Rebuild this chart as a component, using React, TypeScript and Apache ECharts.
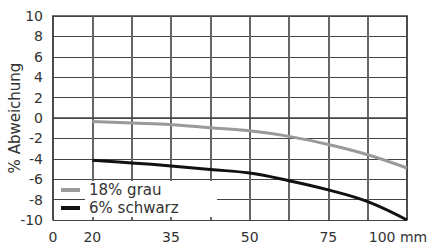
import React, { useEffect, useRef } from "react";
import * as echarts from "echarts";

const tickLabels = ["0", "20", "", "35", "", "50", "", "75", "", "100 mm"];
const grau = [null, -0.35, -0.5, -0.65, -0.95, -1.25, -1.8, -2.6, -3.6, -4.9];
const schwarz = [null, -4.15, -4.4, -4.7, -5.05, -5.4, -6.15, -7.05, -8.2, -10];
const seriesNames = ["18% grau", "6% schwarz"];
const yTitle = "% Abweichung";

const FONT = "DejaVu Sans";
const TEXT = "#333";
const GRID = "#444";

const toPoints = (arr: (number | null)[]) =>
  arr.map((v, i) => (v === null ? null : [i, v])).filter((p) => p !== null);

export default function App() {
  const ref = useRef<HTMLDivElement>(null);
  useEffect(() => {
    document.body.style.margin = "0";
    const chart = echarts.init(ref.current!, null, { renderer: "svg" });
    const xMax = tickLabels.length - 1;
    chart.setOption({
      animation: false,
      grid: {
        left: 53,
        right: 23,
        top: 16,
        bottom: 24,
        outerBoundsMode: "none",
        containLabel: false,
      },
      xAxis: [
        {
          type: "value",
          min: 0,
          max: xMax,
          interval: 1,
          axisLine: { lineStyle: { color: GRID, width: 1.5 } },
          axisTick: { show: false },
          axisLabel: {
            margin: 10,
            color: TEXT,
            fontFamily: FONT,
            fontSize: 14,
            formatter: (v: number) => {
              const s = tickLabels[Math.round(v)] ?? "";
              return Math.round(v) === xMax ? "{t|" + s + "}{p|}" : s;
            },
            rich: {
              t: { fontFamily: FONT, fontSize: 14, color: TEXT },
              p: { width: 18 },
            },
          },
          splitLine: { show: true, lineStyle: { color: "#666", width: 2 } },
        },
        {
          type: "value",
          position: "top",
          min: 0,
          max: xMax,
          interval: 1,
          axisLine: { show: true, onZero: false, lineStyle: { color: GRID, width: 1.5 } },
          axisTick: { show: false },
          axisLabel: { show: false },
          splitLine: { show: false },
        },
      ],
      yAxis: [
        {
          type: "value",
          min: -10,
          max: 10,
          interval: 2,
          name: yTitle,
          nameLocation: "middle",
          nameGap: 31,
          nameMoveOverlap: false,
          nameTextStyle: { fontFamily: FONT, fontSize: 15, color: TEXT },
          axisLine: { show: true, onZero: false, lineStyle: { color: GRID, width: 1.5 } },
          axisTick: { show: false },
          axisLabel: { margin: 10, color: TEXT, fontFamily: FONT, fontSize: 14 },
          splitLine: { show: true, lineStyle: { color: GRID, width: 1 } },
        },
        {
          type: "value",
          position: "right",
          min: -10,
          max: 10,
          interval: 2,
          axisLine: { show: true, onZero: false, lineStyle: { color: GRID, width: 1.5 } },
          axisTick: { show: false },
          axisLabel: { show: false },
          splitLine: { show: false },
        },
      ],
      legend: {
        orient: "vertical",
        left: 56,
        top: 176,
        icon: "rect",
        itemWidth: 19,
        itemHeight: 4,
        itemGap: 0,
        textStyle: {
          fontFamily: FONT,
          fontSize: 15,
          color: TEXT,
          backgroundColor: "#fff",
          width: 128,
          height: 18,
          lineHeight: 18,
          padding: [0, 0, 0, 4],
        },
        data: seriesNames,
      },
      series: [
        {
          name: seriesNames[0],
          type: "line",
          data: toPoints(grau),
          smooth: 0.4,
          symbol: "none",
          lineStyle: { color: "#9a9a9a", width: 3 },
          itemStyle: { color: "#9a9a9a" },
        },
        {
          name: seriesNames[1],
          type: "line",
          data: toPoints(schwarz),
          smooth: 0.4,
          symbol: "none",
          lineStyle: { color: "#111", width: 3 },
          itemStyle: { color: "#111" },
        },
      ],
    });
    return () => chart.dispose();
  }, []);
  return (
    <div
      ref={ref}
      style={{ position: "absolute", left: 0, top: 0, width: 430, height: 244 }}
    />
  );
}
